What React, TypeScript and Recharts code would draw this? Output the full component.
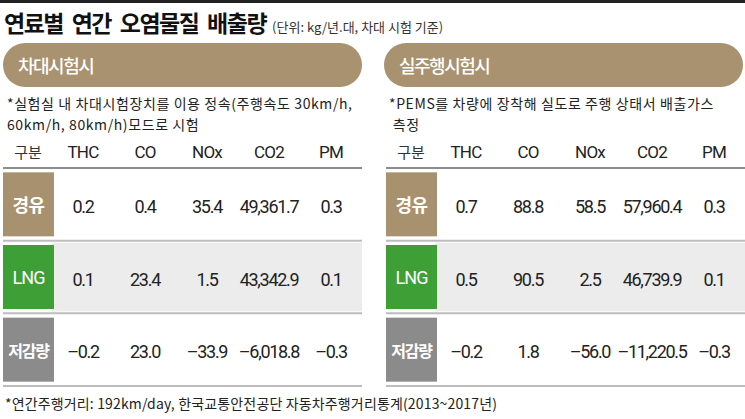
import React from 'react';
import { ReferenceArea, ReferenceLine, Scatter, ScatterChart, XAxis, YAxis } from 'recharts';

// 연료별 연간 오염물질 배출량 — two emission tables (bench test / on-road test)
// drawn as category x category scatter charts with text marks.

const COLUMNS = ['THC', 'CO', 'NOx', 'CO2', 'PM'];
const ROWS = ['경유', 'LNG', '저감량'];

const BENCH_DIESEL = [0.2, 0.4, 35.4, 49361.7, 0.3];
const BENCH_LNG = [0.1, 23.4, 1.5, 43342.9, 0.1];
const BENCH_CUT = [-0.2, 23.0, -33.9, -6018.8, -0.3];

const ROAD_DIESEL = [0.7, 88.8, 58.5, 57960.4, 0.3];
const ROAD_LNG = [0.5, 90.5, 2.5, 46739.9, 0.1];
const ROAD_CUT = [-0.2, 1.8, -56.0, -11220.5, -0.3];

const ROW_COLORS: Record<string, string> = { 경유: '#a8916f', LNG: '#3d9f36', 저감량: '#8b8b8b' };
const PILL = '#a8926f';
const KR = "'Noto Sans CJK KR', sans-serif";
const NUM = "Roboto, 'Noto Sans', sans-serif";

const fmt = (n: number) =>
  n
    .toLocaleString('en-US', { minimumFractionDigits: 1, maximumFractionDigits: 1 })
    .replace('-', '–');

const RowLabel = (props: any) => {
  const { x, y, payload } = props;
  const name = payload.value as string;
  const isLng = name === 'LNG';
  return (
    <g>
      <rect x={x - 49} y={y - 32} width={51} height={64} fill={ROW_COLORS[name]} />
      <text
        x={x - 23.5}
        y={y}
        textAnchor="middle"
        dominantBaseline="central"
        fill="#fff"
        fontFamily={isLng ? NUM : KR}
        fontWeight={isLng ? 400 : 700}
        fontSize={isLng ? 18 : name.length > 2 ? 16 : 18}
        letterSpacing={isLng ? -1 : name.length > 2 ? -1.2 : -0.5}
      >
        {name}
      </text>
    </g>
  );
};

const HeadTick = (props: any) => (
  <text
    x={props.x}
    y={props.y - 10}
    textAnchor="middle"
    fill="#222"
    fontFamily={NUM}
    fontSize={17}
    letterSpacing={-0.8}
  >
    {props.payload.value}
  </text>
);

const CellText = (props: any) => (
  <text
    x={props.cx}
    y={props.cy + 2}
    textAnchor="middle"
    dominantBaseline="central"
    fill="#222"
    fontFamily={NUM}
    fontSize={18}
    letterSpacing={-1.3}
  >
    {fmt(props.payload.value)}
  </text>
);

const RowLine = (color: string, width: number) => (props: any) => (
  <line
    x1={props.x1 - 49}
    y1={props.y1}
    x2={props.x2}
    y2={props.y2}
    stroke={color}
    strokeWidth={width}
  />
);

type TableProps = {
  left: number;
  width: number;
  axisWidth: number;
  rightMargin: number;
  series: number[][];
};

const EmissionTable = ({ left, width, axisWidth, rightMargin, series }: TableProps) => {
  const cells = ROWS.flatMap((row, ri) =>
    COLUMNS.map((col, ci) => ({ col, row, value: series[ri][ci] })),
  );
  return (
    <div style={{ position: 'absolute', left, top: 130 }}>
      <ScatterChart
        width={width}
        height={260}
        margin={{ top: 0, right: rightMargin, bottom: 4, left: 0 }}
      >
        <ReferenceArea
          y1="LNG"
          y2="LNG"
          ifOverflow="visible"
          shape={(p: any) => (
            <rect x={p.x} y={p.y + 2} width={p.width} height={p.height - 4} fill="#ececec" />
          )}
        />
        <XAxis
          xAxisId={0}
          type="category"
          dataKey="col"
          orientation="top"
          allowDuplicatedCategory={false}
          height={38}
          axisLine={false}
          tickLine={false}
          tickSize={0}
          tickMargin={0}
          tick={<HeadTick />}
          interval={0}
        />
        <YAxis
          yAxisId={0}
          type="category"
          dataKey="row"
          reversed
          allowDuplicatedCategory={false}
          width={axisWidth}
          axisLine={false}
          tickLine={false}
          tickSize={0}
          tickMargin={0}
          tick={<RowLabel />}
          interval={0}
          label={{
            content: (p: any) => (
              <text
                x={p.viewBox.x + p.viewBox.width - 24}
                y={p.viewBox.y - 10}
                textAnchor="middle"
                fill="#333"
                fontFamily={KR}
                fontSize={15}
              >
                구분
              </text>
            ),
          }}
        />
        <ReferenceLine y="경유" position="start" ifOverflow="visible" shape={RowLine('#666', 1.5)} />
        {ROWS.map((r) => (
          <ReferenceLine
            key={r}
            y={r}
            position="end"
            ifOverflow="visible"
            shape={RowLine('#bdbdbd', 2)}
          />
        ))}
        <Scatter data={cells} shape={<CellText />} isAnimationActive={false} />
      </ScatterChart>
    </div>
  );
};

const pillStyle = (left: number): React.CSSProperties => ({
  position: 'absolute',
  left,
  top: 43,
  width: 359,
  height: 44,
  borderRadius: 22,
  background: PILL,
  color: '#fff',
  fontSize: 18,
  fontWeight: 500,
  letterSpacing: -1.5,
  lineHeight: '44px',
  paddingLeft: 15,
  boxSizing: 'border-box',
});

const noteStyle = (left: number): React.CSSProperties => ({
  position: 'absolute',
  left,
  top: 93,
  fontSize: 14,
  lineHeight: '20.5px',
  color: '#222',
  letterSpacing: 0.6,
  whiteSpace: 'nowrap',
});

export default function App() {
  return (
    <div
      style={{
        position: 'relative',
        width: 745,
        height: 419,
        background: '#fff',
        overflow: 'hidden',
        fontFamily: KR,
      }}
    >
      <style>{'body{margin:0}'}</style>
      <div style={{ position: 'absolute', left: 0, top: 0, width: 745, height: 3, background: '#222' }} />
      <div style={{ position: 'absolute', left: 4, top: 5, whiteSpace: 'nowrap', color: '#111' }}>
        <span style={{ fontSize: 23, fontWeight: 700, letterSpacing: -1.5, wordSpacing: 5 }}>
          연료별 연간 오염물질 배출량
        </span>
        <span style={{ fontSize: 13, marginLeft: 6, color: '#333', letterSpacing: 0 }}>
          (단위: kg/년.대, 차대 시험 기준)
        </span>
      </div>

      <div style={pillStyle(3)}>차대시험시</div>
      <div style={pillStyle(384)}>실주행시험시</div>

      <div style={noteStyle(7)}>
        *실험실 내 차대시험장치를 이용 정속(주행속도 30km/h,
        <br />
        60km/h, 80km/h)모드로 시험
      </div>
      <div style={noteStyle(389)}>
        *PEMS를 차량에 장착해 실도로 주행 상태서 배출가스
        <br />
        &nbsp;측정
      </div>

      <EmissionTable
        left={0}
        width={372}
        axisWidth={52}
        rightMargin={10}
        series={[BENCH_DIESEL, BENCH_LNG, BENCH_CUT]}
      />
      <EmissionTable
        left={372}
        width={373}
        axisWidth={63}
        rightMargin={0}
        series={[ROAD_DIESEL, ROAD_LNG, ROAD_CUT]}
      />

      <div
        style={{
          position: 'absolute',
          left: 5,
          top: 393,
          fontSize: 14,
          color: '#222',
          letterSpacing: 0.15,
          whiteSpace: 'nowrap',
        }}
      >
        *연간주행거리: 192km/day, 한국교통안전공단 자동차주행거리통계(2013~2017년)
      </div>
    </div>
  );
}
